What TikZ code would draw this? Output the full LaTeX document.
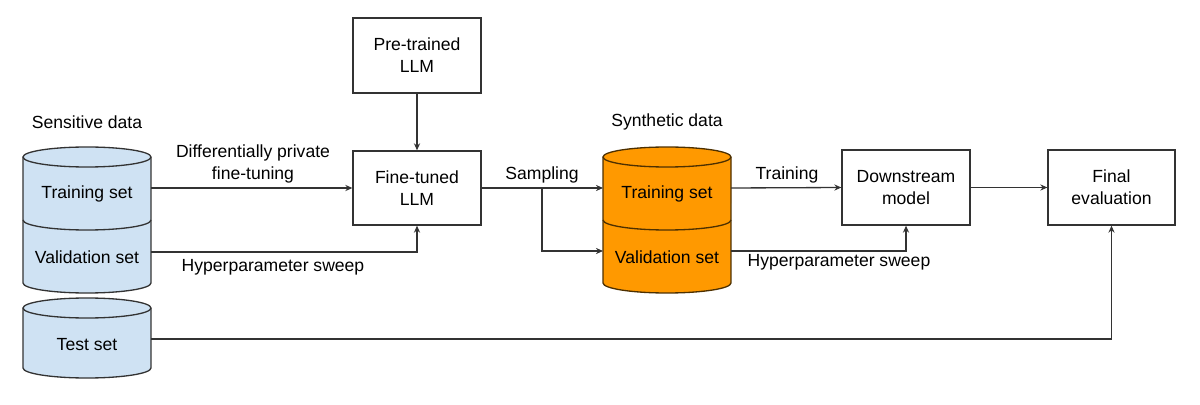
\documentclass[tikz,border=0pt]{standalone}
\usepackage{fontspec}
\setmainfont{Liberation Sans}
\usetikzlibrary{arrows.meta}
\definecolor{ln}{HTML}{333333}
\definecolor{bluefill}{HTML}{CFE2F3}
\definecolor{orangefill}{HTML}{FF9900}
\definecolor{orangeline}{HTML}{4D3000}
\begin{document}
\begin{tikzpicture}[x=0.02cm,y=-0.02cm, font=\fontsize{10}{12.5}\selectfont,
  box/.style={draw=ln, line width=0.75pt, fill=white, align=center, inner sep=0pt},
  conn/.style={draw=ln, line width=0.75pt},
  arr/.style={conn, -{Stealth[length=4pt,width=3.5pt]}},
  lbl/.style={align=center, inner sep=0pt},
  cyl/.style={draw=ln, line width=0.75pt},
  ell/.style={x radius=1.28cm, y radius=0.2cm}]
\useasboundingbox (0,0) rectangle (1200,405);

% sensitive data cylinders
\filldraw[cyl, fill=bluefill] (23,157) -- (23,283) arc[start angle=180,end angle=360,ell] -- (151,157) arc[start angle=0,end angle=180,ell] -- cycle;
\draw[cyl] (23,157) arc[start angle=180,end angle=360,ell];
\draw[cyl] (23,220) arc[start angle=180,end angle=360,ell];
\filldraw[cyl, fill=bluefill] (23,308) -- (23,368) arc[start angle=180,end angle=360,ell] -- (151,308) arc[start angle=0,end angle=180,ell] -- cycle;
\draw[cyl] (23,308) arc[start angle=180,end angle=360,ell];

% synthetic data cylinder
\filldraw[cyl, draw=orangeline, fill=orangefill] (603,157) -- (603,283) arc[start angle=180,end angle=360,ell] -- (731,157) arc[start angle=0,end angle=180,ell] -- cycle;
\draw[cyl, draw=orangeline] (603,157) arc[start angle=180,end angle=360,ell];
\draw[cyl, draw=orangeline] (603,220) arc[start angle=180,end angle=360,ell];

% texts
\node[lbl] (sens) at (87,122) {Sensitive data};
\node[lbl] (sTrT) at (87,194) {Training set};
\node[lbl] (sVaT) at (87,257) {Validation set};
\node[lbl] (sTeT) at (87,345) {Test set};
\node[lbl] (syn) at (667,122) {Synthetic data};
\node[lbl] (oTrT) at (667,194) {Training set};
\node[lbl] (oVaT) at (667,257) {Validation set};

% boxes
\node[box, minimum width=2.56cm, minimum height=1.5cm] (pre) at (417,55.5) {Pre-trained\\LLM};
\node[box, minimum width=2.56cm, minimum height=1.48cm] (ft) at (417,188) {Fine-tuned\\LLM};
\node[box, minimum width=2.56cm, minimum height=1.5cm] (ds) at (906,187.5) {Downstream\\model};
\node[box, minimum width=2.54cm, minimum height=1.5cm] (fe) at (1111.5,187.5) {Final\\evaluation};

% connector ends on cylinders
\coordinate (sTr) at (151,188);
\coordinate (sVa) at (151,252);
\coordinate (sTe) at (151,339);
\coordinate (oTr) at (603,188);
\coordinate (oVa) at (603,251);
\coordinate (br) at (542,188);
\coordinate (oTrR) at (731,188);
\coordinate (oVaR) at (731,251);

% connectors
\draw[arr] (sTr) -- (ft.west);
\draw[arr] (sVa) -| (ft.south);
\draw[arr] (sTe) -| (fe.south);
\draw[arr] (pre) -- (ft);
\draw[arr] (ft.east) -- (oTr);
\draw[arr] (br) |- (oVa);
\draw[arr] (oTrR) -- (ds.west);
\draw[arr] (oVaR) -| (ds.south);
\draw[arr] (ds) -- (fe);

% connector labels
\node[lbl] (l1) at (253,164) {Differentially private\\fine-tuning};
\node[lbl] (l2) at (273,267) {Hyperparameter sweep};
\node[lbl] (l3) at (542,175) {Sampling};
\node[lbl] (l4) at (787,175) {Training};
\node[lbl] (l5) at (839,262) {Hyperparameter sweep};
\end{tikzpicture}
\end{document}
